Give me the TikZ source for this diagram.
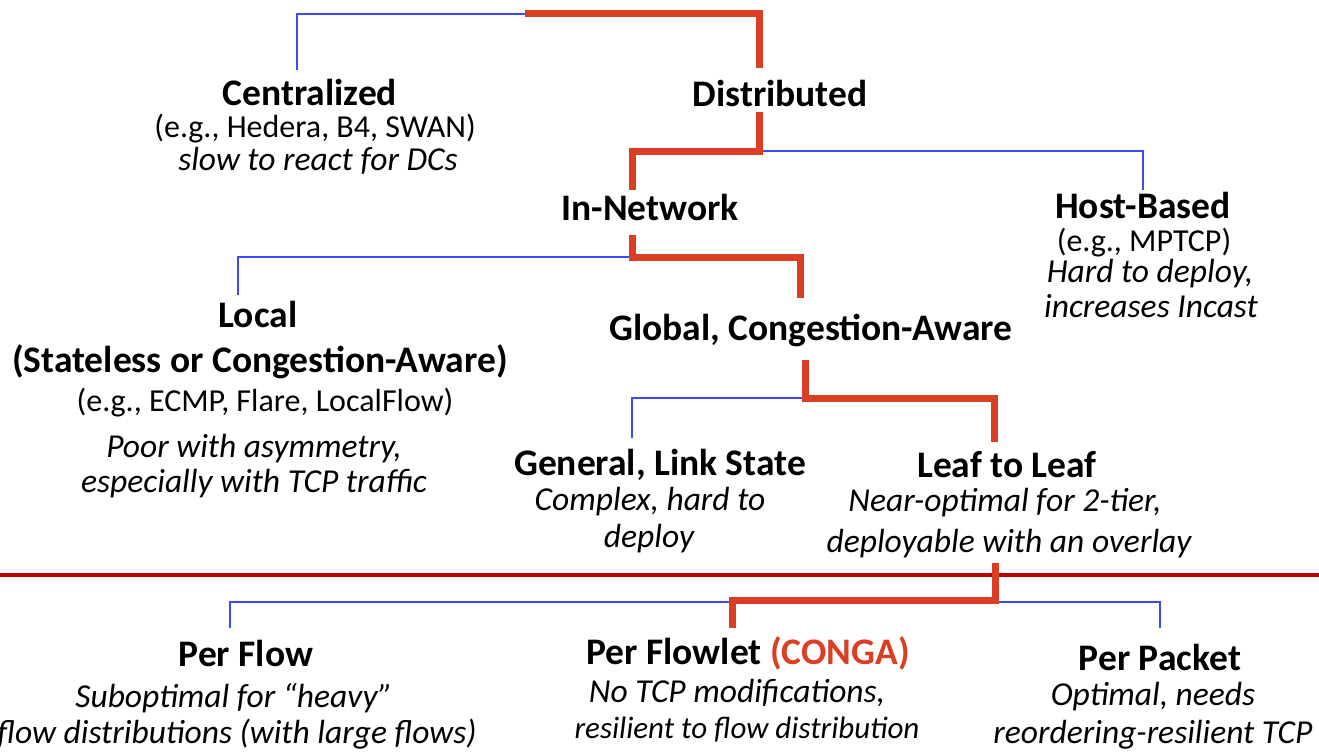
\documentclass[tikz,border=0pt]{standalone}
\usepackage{fontspec}
\setmainfont{Carlito}
\definecolor{pathred}{HTML}{DA3F24}
\definecolor{branchblue}{HTML}{3B4CF5}
\definecolor{rulered}{HTML}{C00000}
\tikzset{
  title/.style={anchor=base,inner sep=0pt,font=\fontsize{37.5}{40}\selectfont\bfseries},
  note/.style={anchor=base,inner sep=0pt,font=\fontsize{32}{36}\selectfont},
  remark/.style={anchor=base,inner sep=0pt,font=\fontsize{33.5}{36}\selectfont\itshape},
  chosen/.style={draw=pathred,line width=7pt,line join=miter},
  other/.style={draw=branchblue,line width=2.7pt,line join=miter},
}
\begin{document}
\begin{tikzpicture}[x=1pt,y=-1pt]
\useasboundingbox (0,0) rectangle (1319,752);
\fill[white] (0,0) rectangle (1319,752);

% ---- labels ----
\node[title]  (cent)   at (310,105) {Centralized};
\node[note]   (cent1)  at (315,137) {(e.g., Hedera, B4, SWAN)};
\node[remark] (cent2)  at (318,170) {slow to react for DCs};

\node[title]  (dist)   at (780,106) {Distributed};

\node[title]  (innet)  at (650,220) {In-Network};

\node[title]  (host)   at (1143,218) {Host-Based};
\node[note]   (host1)  at (1144,251) {(e.g., MPTCP)};
\node[remark] (host2)  at (1150,282) {Hard to deploy,};
\node[remark] (host3)  at (1151,317) {increases Incast};

\node[title]  (local)  at (258,327) {Local};
\node[title]  (local1) at (260,372) {(Stateless or Congestion-Aware)};
\node[note]   (local2) at (265,411) {(e.g., ECMP, Flare, LocalFlow)};
\node[remark] (local3) at (254,457) {Poor with asymmetry,};
\node[remark] (local4) at (254,492) {especially with TCP traffic};

\node[title]  (global) at (811,340) {Global, Congestion-Aware};

\node[title]  (gls)    at (660,475) {General, Link State};
\node[remark] (gls1)   at (650,510) {Complex, hard to};
\node[remark] (gls2)   at (649,547) {deploy};

\node[title]  (l2l)    at (1007,477) {Leaf to Leaf};
\node[remark] (l2l1)   at (1005,511) {Near-optimal for 2-tier,};
\node[remark] (l2l2)   at (1009,552) {deployable with an overlay};

\node[title]  (pflow)  at (246,666) {Per Flow};
\node[remark] (pflow1) at (234,707) {Suboptimal for “heavy”};
\node[remark] (pflow2) at (237,743) {flow distributions (with large flows)};

\node[title]  (pflet)  at (748,664) {Per Flowlet \textcolor{pathred}{(CONGA)}};
\node[remark] (pflet1) at (737,702) {No TCP modifications,};
\node[remark,font=\fontsize{31}{36}\selectfont\itshape]
              (pflet2) at (747,738) {resilient to flow distribution};

\node[title]  (ppkt)   at (1160,670) {Per Packet};
\node[remark] (ppkt1)  at (1153,705) {Optimal, needs};
\node[remark] (ppkt2)  at (1153,743) {reordering-resilient TCP};

% ---- branch points and line ends ----
\coordinate (j0) at (525,14);
\coordinate (centtop) at (297,70);
\coordinate (disttop) at (759,68);
\coordinate (distbot) at (759,112);
\coordinate (j1) at (759,151);
\coordinate (innettop) at (632,190);
\coordinate (hosttop) at (1143,190);
\coordinate (innetbot) at (632,235);
\coordinate (j2) at (632,257);
\coordinate (localtop) at (238,295);
\coordinate (globaltop) at (800,298);
\coordinate (globalbot) at (805,360);
\coordinate (j3) at (805,398);
\coordinate (glstop) at (632,438);
\coordinate (l2ltop) at (994,442);
\coordinate (l2lbot) at (995,563);
\coordinate (j4) at (995,600);
\coordinate (pflowtop) at (230,628);
\coordinate (pflettop) at (732,628);
\coordinate (ppkttop) at (1160,628);
\coordinate (ruleL) at (0,575);
\coordinate (ruleR) at (1319,575);

% ---- branches not taken ----
\draw[other] (j0) -| (centtop);
\draw[other] (j1) -| (hosttop);
\draw[other] (j2) -| (localtop);
\draw[other] (j3) -| (glstop);
\draw[other] (pflowtop) |- (j4 |- 0,602) -| (ppkttop);

% ---- divider ----
\draw[rulered,line width=4pt] (ruleL) -- (ruleR);

% ---- chosen path ----
\draw[chosen] (j0) -| (disttop);
\draw[chosen] (distbot) -- (j1) -| (innettop);
\draw[chosen] (innetbot) -- (j2) -| (globaltop);
\draw[chosen] (globalbot) -- (j3) -| (l2ltop);
\draw[chosen] (l2lbot) -- (j4) -| (pflettop);
\end{tikzpicture}
\end{document}
